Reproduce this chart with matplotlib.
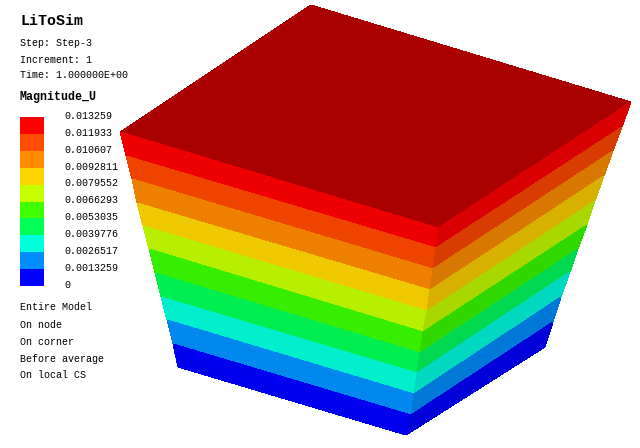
#!/usr/bin/env python3
import matplotlib
matplotlib.use("Agg")
import matplotlib.pyplot as plt

plt.rcParams["font.family"] = ["Liberation Mono", "DejaVu Sans Mono"]

# contour levels, top of the legend first
level_labels = ["0.013259", "0.011933", "0.010607", "0.0092811", "0.0079552", "0.0066293",
                "0.0053035", "0.0039776", "0.0026517", "0.0013259", "0"]
legend_colours = ["#ff0000", "#ff4c00", "#ff8c00", "#ffd500", "#c8ff00",
                  "#40ff00", "#00ff55", "#00ffdd", "#008cff", "#0000ff"]
left_colours = ["#ee0000", "#ee4400", "#ee8000", "#eec800", "#b8ee00",
                "#38ee00", "#00ee50", "#00eecc", "#0088ee", "#0000ee"]
right_colours = ["#d80000", "#d83c00", "#d87800", "#d8b000", "#a8d800",
                 "#30d800", "#00d850", "#00d8c0", "#0078d8", "#0000d8"]
top_colour = "#aa0000"

# the three vertical edges of the block, read at each contour level
left_x = [120, 126, 132, 137, 143, 149, 155, 161, 167, 173, 178]
left_y = [132, 156, 179, 203, 226, 249, 273, 297, 320, 344, 367]
front_x = [438, 436, 433, 430, 427, 423, 420, 417, 414, 411, 406]
front_y = [228, 248, 269, 290, 311, 332, 353, 373, 394, 415, 435]
right_x = [631, 622, 613, 604, 595, 587, 578, 570, 561, 553, 545]
right_y = [102, 127, 151, 176, 201, 225, 249, 272, 297, 322, 347]
back_x, back_y = 311, 5

legend_edges = [117, 134, 151, 168, 185, 202, 218, 235, 252, 269, 286]
label_y = [116, 133, 150, 167, 183, 200, 217, 234, 251, 268, 285]

header = [("Step: Step-3", 43), ("Increment: 1", 60), ("Time: 1.000000E+00", 75)]
footer = [("Entire Model", 307), ("On node", 325), ("On corner", 342),
          ("Before average", 359), ("On local CS", 375)]

fig = plt.figure(figsize=(6.4, 4.48), dpi=100, facecolor="white")
ax = fig.add_axes([0, 0, 1, 1])
ax.set_xlim(0, 640)
ax.set_ylim(448, 0)
ax.axis("off")

ax.fill([back_x, right_x[0], front_x[0], left_x[0]],
        [back_y, right_y[0], front_y[0], left_y[0]],
        color=top_colour, lw=0, antialiased=False)
for i in range(10):
    ax.fill([left_x[i], front_x[i], front_x[i + 1], left_x[i + 1]],
            [left_y[i], front_y[i], front_y[i + 1], left_y[i + 1]],
            color=left_colours[i], lw=0, antialiased=False)
    ax.fill([front_x[i], right_x[i], right_x[i + 1], front_x[i + 1]],
            [front_y[i], right_y[i], right_y[i + 1], front_y[i + 1]],
            color=right_colours[i], lw=0, antialiased=False)
    ax.fill([20, 44, 44, 20],
            [legend_edges[i], legend_edges[i], legend_edges[i + 1], legend_edges[i + 1]],
            color=legend_colours[i], lw=0, antialiased=False)

ax.text(20, 21, "LiToSim", fontsize=10.8, fontweight="bold", color="black", va="center")
ax.text(20, 97, "Magnitude_U", fontsize=8.4, fontweight="bold", color="black", va="center")
for txt, y in header + footer:
    ax.text(20, y, txt, fontsize=7.2, color="black", va="center")
for txt, y in zip(level_labels, label_y):
    ax.text(64.5, y, txt, fontsize=7.2, color="black", va="center")

fig.savefig("out.png", dpi=100)
